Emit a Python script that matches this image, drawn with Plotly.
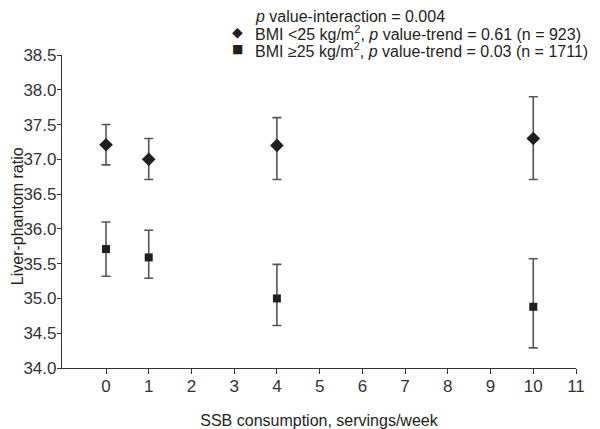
import plotly.graph_objects as go

x_vals = [0, 1, 4, 10]
low_bmi = [37.21, 37.0, 37.2, 37.3]
low_bmi_upper = [37.5, 37.3, 37.6, 37.9]
low_bmi_lower = [36.92, 36.71, 36.71, 36.71]
high_bmi = [35.71, 35.59, 35.0, 34.88]
high_bmi_upper = [36.1, 35.98, 35.49, 35.57]
high_bmi_lower = [35.32, 35.29, 34.61, 34.29]

x_ticks = list(range(0, 12))
y_ticks = [34.0, 34.5, 35.0, 35.5, 36.0, 36.5, 37.0, 37.5, 38.0, 38.5]

legend_title = "<i>p</i> value-interaction = 0.004"
label_low = "BMI <25 kg/m<sup>2</sup>, <i>p</i> value-trend = 0.61 (n = 923)"
label_high = "BMI ≥25 kg/m<sup>2</sup>, <i>p</i> value-trend = 0.03 (n = 1711)"
y_title = "Liver-phantom ratio"
x_title = "SSB consumption, servings/week"

FONT = "Liberation Sans, Arial, sans-serif"
INK = "#231f20"
ERR = "#555555"

def err(vals, up, lo):
    return dict(type="data", symmetric=False,
                array=[u - v for u, v in zip(up, vals)],
                arrayminus=[v - l for v, l in zip(vals, lo)],
                color=ERR, thickness=1.6, width=4.5)

fig = go.Figure()
fig.add_trace(go.Scatter(
    x=x_vals, y=low_bmi, mode="markers", name=label_low,
    marker=dict(symbol="diamond", size=10.5, color=INK),
    error_y=err(low_bmi, low_bmi_upper, low_bmi_lower),
))
fig.add_trace(go.Scatter(
    x=x_vals, y=high_bmi, mode="markers", name=label_high,
    marker=dict(symbol="square", size=8, color=INK),
    error_y=err(high_bmi, high_bmi_upper, high_bmi_lower),
))

# Legend drawn as text (tight line spacing as in the reference)
TX = 0.3716
SX = 0.3405
for txt, yy in [(legend_title, 1.1246), (label_low, 1.071), (label_high, 1.0175)]:
    fig.add_annotation(text=txt, xref="paper", yref="paper", x=TX, y=yy,
                       xanchor="left", yanchor="middle", showarrow=False,
                       font=dict(family=FONT, size=16, color=INK))
for sym, sz, yy in [("◆", 14, 1.073), ("■", 12, 1.0195)]:
    fig.add_annotation(text=sym, xref="paper", yref="paper", x=SX, y=yy,
                       xanchor="center", yanchor="middle", showarrow=False,
                       font=dict(family="DejaVu Sans", size=sz, color=INK))

# y-axis title as a rotated annotation so it can sit left of the tick labels
fig.add_annotation(text=y_title, xref="paper", yref="paper", x=-0.0875, y=0.485,
                   xanchor="center", yanchor="middle", textangle=-90, showarrow=False,
                   font=dict(family=FONT, size=16, color=INK))

# page has an 8px body margin, so the figure is drawn 8px smaller
fig.update_layout(
    width=592, height=421,
    margin=dict(l=54, r=24, t=47, b=61),
    paper_bgcolor="white", plot_bgcolor="white",
    font=dict(family=FONT, size=16, color="#333333"),
    showlegend=False,
    xaxis=dict(range=[-1.03, 11], tickvals=x_ticks, showgrid=False, zeroline=False,
               showline=True, linecolor="#333333", linewidth=1.2, automargin=False,
               ticks="outside", ticklen=5, tickcolor="#333333", tickwidth=1.2,
               tickfont=dict(size=17), ticklabelstandoff=-3,
               title=dict(text=x_title, standoff=22,
                          font=dict(size=16, color=INK))),
    yaxis=dict(range=[34, 38.5], tickvals=y_ticks, tickformat=".1f", showgrid=False,
               zeroline=False, showline=True, linecolor="#333333", linewidth=1.2,
               automargin=False, ticklabelstandoff=-3,
               ticks="outside", ticklen=4, tickcolor="#333333", tickwidth=1.2,
               tickfont=dict(size=17)),
)

fig.write_html("out.html")
